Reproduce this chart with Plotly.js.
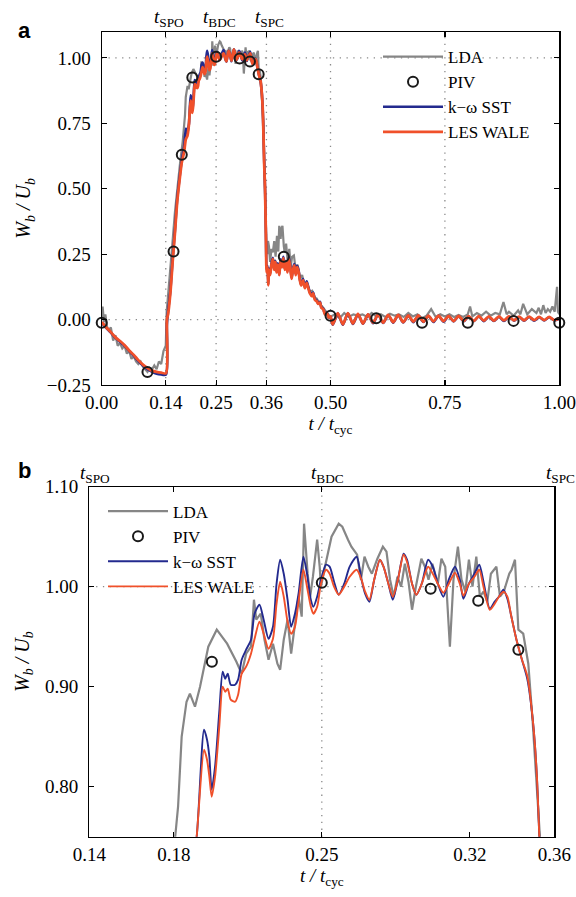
<!DOCTYPE html>
<html>
<head>
<meta charset="utf-8">
<script src="https://cdn.plot.ly/plotly-3.0.1.min.js"></script>
<style>html,body{margin:0;padding:0;background:#fff;}#chart{width:576px;height:897px;}</style>
</head>
<body>
<div id="chart"></div>
<script>
// ---------------- data ----------------
const tSim = [0,0.01,0.02,0.03,0.04,0.05,0.06,0.07,0.08,0.09,0.1,0.11,0.12,0.13,0.1405,
0.1425,0.145,0.15,0.155,0.16,0.165,0.17,0.175,0.18,0.184,0.187,0.189,0.1908,
0.1943,0.1957,0.1968,0.1979,0.1995,0.2015,0.2031,0.2043,0.2055,0.2069,0.209,0.2104,0.2121,0.2142,0.2165,0.2182,0.2205,0.2225,0.2248,0.2269,0.2286,0.2303,0.232,0.2338,0.2355,0.2373,0.239,0.2413,0.243,0.2448,0.246,0.2478,0.2496,0.252,0.2537,0.2558,0.258,0.2606,0.2632,0.2665,0.2688,0.2705,0.2725,0.2748,0.2775,0.2792,0.2815,0.2836,0.286,0.2887,0.2903,0.2927,0.2947,0.2973,0.3003,0.3025,0.3049,0.3075,0.3101,0.313,0.3153,0.317,0.3196,0.3222,0.3245,0.3265,0.3295,0.3318,0.3338,0.3359,0.3378,0.3395,0.3421,0.3447,0.3473,0.35,0.3517,0.3529,
0.355,0.357,0.359,0.3605,0.3625,0.364,0.3655,0.368,0.371,0.374,0.377,0.3795,0.382,0.385,0.388,0.391,0.394,0.397,0.4,0.403,0.406,0.409,0.412,0.415,0.418,0.421,0.424,0.427,0.43,0.433,0.436,0.44,0.444,0.448,0.4515,0.455,0.459,0.462,0.466,0.47,0.473,0.477,0.48,0.484,0.488,0.492,0.496,
0.5,0.505,0.516,0.527,0.538,0.549,0.56,0.571,0.582,0.593,0.604,0.615,0.626,0.637,0.648,0.659,0.67,0.681,0.692,0.703,0.714,0.725,0.736,0.747,0.758,0.769,0.78,0.791,0.802,0.813,0.824,0.835,0.846,0.857,0.868,0.879,0.89,0.901,0.912,0.923,0.934,0.945,0.956,0.967,0.978,0.989,1.0];

const lesWale = [-0.01,-0.03,-0.048,-0.068,-0.082,-0.098,-0.118,-0.135,-0.155,-0.172,-0.185,-0.195,-0.2,-0.203,-0.205,
0.0,0.02,0.1,0.22,0.33,0.45,0.53,0.6,0.64,0.69,0.7,0.72,0.75,
0.837,0.827,0.81,0.79,0.81,0.86,0.9,0.895,0.898,0.887,0.885,0.892,0.913,0.92,0.933,0.948,0.965,0.953,0.938,0.948,0.983,1.005,0.99,0.965,0.953,0.96,0.985,1.017,1.0,0.98,0.973,0.98,1.003,1.017,1.013,1.0,0.992,1.0,1.01,1.017,1.007,0.995,0.987,1.007,1.027,1.02,1.003,0.99,1.007,1.032,1.025,1.003,0.992,1.003,1.02,1.013,1.003,0.994,1.003,1.014,1.003,0.991,1.003,1.01,1.017,1.0,0.977,0.983,0.99,0.995,0.99,0.972,0.947,0.927,0.91,0.863,0.813,0.75,
0.6,0.497,0.3,0.18,0.2,0.131,0.19,0.17,0.21,0.232,0.19,0.22,0.18,0.21,0.17,0.225,0.2,0.235,0.19,0.22,0.18,0.232,0.2,0.156,0.19,0.207,0.17,0.2,0.185,0.15,0.13,0.15,0.12,0.14,0.12,0.1,0.09,0.1,0.075,0.07,0.06,0.065,0.045,0.04,0.02,0.025,0.008,
0.012,-0.018,0.025,-0.018,0.025,-0.015,0.022,-0.015,0.02,-0.012,0.02,-0.012,0.018,-0.01,0.018,-0.01,0.016,-0.008,0.016,-0.008,0.015,-0.007,0.015,-0.006,0.014,-0.006,0.014,-0.005,0.013,-0.005,0.013,-0.004,0.012,-0.004,0.012,-0.003,0.012,-0.003,0.011,-0.003,0.011,-0.002,0.01,-0.002,0.01,-0.002,0.004];

const kwSst = [-0.012,-0.032,-0.05,-0.07,-0.085,-0.1,-0.12,-0.138,-0.158,-0.176,-0.19,-0.2,-0.207,-0.21,-0.21,
-0.02,0.03,0.11,0.23,0.34,0.46,0.54,0.61,0.66,0.73,0.71,0.73,0.75,
0.857,0.847,0.83,0.797,0.82,0.875,0.915,0.908,0.913,0.902,0.902,0.907,0.927,0.937,0.947,0.973,0.982,0.967,0.948,0.96,1.003,1.027,1.013,0.987,0.96,0.973,0.993,1.03,1.013,0.987,0.98,0.99,1.007,1.022,1.02,1.005,0.992,1.003,1.02,1.03,1.007,0.993,0.985,1.007,1.027,1.02,1.003,0.987,1.007,1.033,1.027,1.003,0.992,1.003,1.027,1.02,1.003,0.99,1.007,1.02,1.007,0.988,1.003,1.013,1.022,1.005,0.978,0.985,0.99,0.997,0.988,0.972,0.947,0.927,0.907,0.863,0.813,0.75,
0.61,0.5,0.31,0.19,0.205,0.135,0.195,0.175,0.215,0.236,0.195,0.225,0.185,0.215,0.172,0.23,0.205,0.24,0.195,0.225,0.185,0.238,0.205,0.16,0.195,0.212,0.175,0.205,0.19,0.155,0.133,0.155,0.125,0.146,0.125,0.104,0.095,0.103,0.079,0.073,0.062,0.068,0.047,0.042,0.022,0.026,0.008,
0.01,-0.02,0.024,-0.02,0.024,-0.017,0.02,-0.016,0.019,-0.014,0.019,-0.013,0.017,-0.012,0.017,-0.011,0.015,-0.01,0.015,-0.009,0.014,-0.009,0.014,-0.008,0.013,-0.007,0.013,-0.007,0.012,-0.006,0.012,-0.006,0.011,-0.005,0.011,-0.005,0.011,-0.004,0.01,-0.004,0.01,-0.004,0.009,-0.003,0.009,-0.003,0.003];

const tLda = [0,0.002,0.005,0.008,0.012,0.016,0.02,0.025,0.03,0.035,0.04,0.045,0.05,0.055,0.06,0.065,0.07,0.075,0.08,0.085,0.09,0.095,0.1,0.105,0.11,0.115,0.12,0.125,0.13,0.135,0.14,
0.142,0.145,0.149,0.154,0.16,0.1665,0.172,0.177,0.1806,0.182,0.1837,0.186,0.1876,0.19,0.1924,0.1963,0.2003,0.2052,0.2096,0.2121,0.2142,0.2165,0.2179,0.219,0.2211,0.2229,0.2248,0.2269,0.229,0.2303,0.232,0.2338,0.2355,0.2373,0.239,0.2405,0.2416,0.2433,0.2445,0.2458,0.2478,0.249,0.2496,0.2515,0.2546,0.258,0.2597,0.2624,0.264,0.2667,0.2685,0.2702,0.272,0.2737,0.2763,0.2789,0.2806,0.2823,0.284,0.2858,0.2875,0.2893,0.291,0.2927,0.2945,0.2971,0.2988,0.3005,0.3023,0.3049,0.3066,0.3084,0.3106,0.3123,0.3144,0.3161,0.3179,0.3196,0.3213,0.3231,0.3248,0.3265,0.3283,0.33,0.3326,0.3343,0.3361,0.3387,0.3398,0.3414,0.343,0.3453,0.3477,0.3497,0.3516,0.3532,
0.356,0.358,0.3597,0.362,0.3635,0.3655,0.368,0.371,0.374,0.377,0.38,0.383,0.386,0.388,0.391,0.393,0.395,0.398,0.4,0.403,0.406,0.4075,0.41,0.413,0.416,0.42,0.424,0.428,0.4335,0.438,0.443,0.448,0.455,0.46,0.465,0.47,0.476,0.482,0.49,0.495,0.5,
0.51,0.52,0.53,0.54,0.55,0.56,0.57,0.58,0.59,0.6,0.61,0.62,0.63,0.64,0.65,0.66,0.67,0.68,0.69,0.7,0.71,0.72,0.73,0.74,0.75,0.76,0.77,0.78,0.79,0.8,0.805,0.81,0.82,0.83,0.84,0.85,0.86,0.87,0.878,0.885,0.89,0.9,0.91,0.915,0.921,0.93,0.94,0.95,0.955,0.96,0.965,0.97,0.975,0.98,0.985,0.99,0.995,0.997,1.0];

const lda = [0.0,0.05,-0.01,0.02,-0.03,-0.04,-0.03,-0.08,-0.06,-0.1,-0.09,-0.11,-0.1,-0.13,-0.12,-0.15,-0.14,-0.16,-0.17,-0.16,-0.18,-0.19,-0.2,-0.185,-0.19,-0.175,-0.19,-0.16,-0.17,-0.12,-0.1,
0.03,0.1,0.18,0.28,0.41,0.535,0.61,0.68,0.749,0.78,0.85,0.885,0.893,0.88,0.9,0.94,0.957,0.943,0.925,0.913,0.933,0.94,0.987,0.967,0.973,0.947,0.927,0.943,0.923,0.917,0.947,0.967,0.933,0.96,0.99,0.97,1.063,1.013,0.99,1.01,1.047,1.02,1.0,1.02,1.05,1.063,1.06,1.047,1.04,1.032,1.007,1.03,1.02,1.013,1.028,1.04,1.035,1.007,0.99,1.01,1.0,1.023,1.005,0.977,1.0,1.028,1.02,1.007,1.023,1.003,1.028,1.02,0.94,1.007,1.04,1.007,0.995,1.027,1.0,1.03,0.99,0.995,0.985,1.013,1.02,0.99,0.995,1.013,1.017,1.027,0.957,0.953,0.923,0.867,0.8,0.75,
0.55,0.35,0.295,0.25,0.3,0.28,0.22,0.27,0.257,0.3,0.24,0.32,0.26,0.358,0.308,0.35,0.358,0.28,0.257,0.29,0.23,0.245,0.27,0.2,0.24,0.245,0.19,0.21,0.156,0.17,0.13,0.14,0.106,0.11,0.085,0.08,0.06,0.05,0.03,0.02,0.011,
0.02,0.005,0.025,0.01,0.02,0.015,0.02,0.01,0.025,0.012,0.02,0.01,0.022,0.015,0.02,0.01,0.025,0.012,0.02,0.005,0.015,0.04,0.01,0.02,0.012,0.02,0.01,0.018,0.01,0.02,0.05,0.012,0.025,0.015,0.03,0.015,0.025,0.02,0.067,0.02,0.03,0.015,0.035,0.02,0.06,0.02,0.04,0.025,0.045,0.02,0.055,0.025,0.04,0.03,0.05,0.03,0.125,0.03,0.02];

const tPiv = [0,0.1,0.157,0.175,0.198,0.25,0.3015,0.324,0.343,0.398,0.5,0.6,0.7,0.8,0.9,1.0];
const piv  = [-0.012,-0.2,0.26,0.63,0.925,1.004,0.998,0.986,0.937,0.24,0.015,0.005,-0.012,-0.012,-0.005,-0.012];

const seriesNames = ['LDA','PIV','k\u2212\u03c9 SST','LES WALE'];
const eventT = [0.14, 0.25, 0.36];
const eventNames = ['SPO','BDC','SPC'];
const xTicksTop = [0, 0.14, 0.25, 0.36, 0.5, 0.75, 1.0];
const yTicksTop = [-0.25, 0, 0.25, 0.5, 0.75, 1.0];
const xTicksBot = [0.14, 0.18, 0.25, 0.32, 0.36];
const yTicksBot = [0.8, 0.9, 1.0, 1.1];
const xGridTop = [0.14, 0.25, 0.36, 0.5, 0.75];
const yGridTop = [0, 1];
const xGridBot = [0.25];
const yGridBot = [1.0];

// ---------------- styling ----------------
const C_LDA = '#868686', C_SST = '#232a8e', C_LES = '#f0502a', C_PIV = '#1a1a1a';
const SERIF = 'Liberation Serif';

function traces(xa, ya, leg, wide) {
  return [
    {x: tLda, y: lda, type: 'scatter', mode: 'lines', name: seriesNames[0], xaxis: xa, yaxis: ya, legend: leg,
     line: {color: C_LDA, width: 2.2}, legendrank: 1},
    {x: tSim, y: kwSst, type: 'scatter', mode: 'lines', name: seriesNames[2], xaxis: xa, yaxis: ya, legend: leg,
     line: {color: C_SST, width: wide ? 2.6 : 1.9, shape: 'spline', smoothing: 0.7}, legendrank: 3},
    {x: tSim, y: lesWale, type: 'scatter', mode: 'lines', name: seriesNames[3], xaxis: xa, yaxis: ya, legend: leg,
     line: {color: C_LES, width: wide ? 2.8 : 1.9, shape: 'spline', smoothing: 0.7}, legendrank: 4},
    {x: tPiv, y: piv, type: 'scatter', mode: 'markers', name: seriesNames[1], xaxis: xa, yaxis: ya, legend: leg,
     marker: {symbol: 'circle-open', size: 10, color: C_PIV, line: {width: 2, color: C_PIV}}, legendrank: 2, cliponaxis: false}
  ];
}

const data = traces('x', 'y', 'legend', true).concat(traces('x2', 'y2', 'legend2', false));

const W = 576, H = 897, ML = 80, MR = 16, MT = 20, MB = 40;
const PW = W - ML - MR, PH = H - MT - MB;
const fx = px => (px - ML) / PW;
const fy = py => (H - MB - py) / PH;

function axis(extra, standoff) {
  return Object.assign({
    showline: true, linecolor: '#000', linewidth: 1.2, mirror: 'ticks',
    ticks: 'inside', ticklen: 5, tickwidth: 1.2, tickcolor: '#000',
    showgrid: false, zeroline: false, tickmode: 'array', tickformat: '.2f',
    tickfont: {family: SERIF, size: 19, color: '#000'}, ticklabelstandoff: standoff
  }, extra);
}

const shapes = [];
function gridShapes(xs, ys, xr, yr) {
  xs.forEach(v => shapes.push({type: 'line', xref: xr, yref: yr + ' domain', x0: v, x1: v, y0: 0, y1: 1,
    line: {color: '#8a8a8a', width: 1.3, dash: '1.3px,5.5px'}, layer: 'below'}));
  ys.forEach(v => shapes.push({type: 'line', xref: xr + ' domain', yref: yr, x0: 0, x1: 1, y0: v, y1: v,
    line: {color: '#8a8a8a', width: 1.3, dash: '1.3px,5.5px'}, layer: 'below'}));
}
gridShapes(xGridTop, yGridTop, 'x', 'y');
gridShapes(xGridBot, yGridBot, 'x2', 'y2');

const annotations = [];
eventT.forEach((t, i) => {
  annotations.push({xref: 'x', yref: 'paper', x: t, y: fy(18), xshift: 3, yanchor: 'middle', xanchor: 'center', showarrow: false,
    text: '<i>t</i><sub>' + eventNames[i] + '</sub>', font: {family: SERIF, size: 19, color: '#000'}});
  annotations.push({xref: 'x2', yref: 'paper', x: t, y: fy(474), xshift: 6, yanchor: 'middle', xanchor: 'center', showarrow: false,
    text: '<i>t</i><sub>' + eventNames[i] + '</sub>', font: {family: SERIF, size: 19, color: '#000'}});
});
annotations.push({xref: 'paper', yref: 'paper', x: fx(24), y: fy(31), xanchor: 'center', yanchor: 'middle', showarrow: false,
  text: '<b>a</b>', font: {family: 'Liberation Sans', size: 22, color: '#000'}});
annotations.push({xref: 'paper', yref: 'paper', x: fx(24), y: fy(470), xanchor: 'center', yanchor: 'middle', showarrow: false,
  text: '<b>b</b>', font: {family: 'Liberation Sans', size: 22, color: '#000'}});

const yTitle = '<i>W</i><sub><i>b</i></sub><i> / U</i><sub><i>b</i></sub>';
const xTitle = '<i>t / t</i><sub>cyc</sub>';

const legendBase = {bgcolor: 'rgba(0,0,0,0)', borderwidth: 0, font: {family: SERIF, size: 17, color: '#000'},
  itemwidth: 60, xanchor: 'left', yanchor: 'top', traceorder: 'normal', itemclick: false};

const layout = {
  width: W, height: H, paper_bgcolor: '#fff', plot_bgcolor: 'rgba(0,0,0,0)',
  margin: {l: ML, r: MR, t: MT, b: MB}, showlegend: true,
  font: {family: SERIF, size: 19, color: '#000'},
  xaxis: axis({domain: [fx(101.7), fx(559.3)], range: [0, 1], tickvals: xTicksTop, anchor: 'y',
    title: {text: xTitle, font: {family: SERIF, size: 19}, standoff: 1}}, 0),
  yaxis: axis({domain: [fy(385), fy(31.7)], range: [-0.25, 1.1], tickvals: yTicksTop, anchor: 'x',
    title: {text: yTitle, font: {family: SERIF, size: 20}, standoff: 10}}, 6),
  xaxis2: axis({domain: [fx(89.3), fx(554.3)], range: [0.14, 0.36], tickvals: xTicksBot, anchor: 'y2',
    title: {text: xTitle, font: {family: SERIF, size: 19}, standoff: 1}}, 0),
  yaxis2: axis({domain: [fy(836.7), fy(486.7)], range: [0.75, 1.1], tickvals: yTicksBot, anchor: 'x2',
    title: {text: yTitle, font: {family: SERIF, size: 20}, standoff: 10}}, 6),
  legend: Object.assign({}, legendBase, {x: fx(378), y: fy(39)}),
  legend2: Object.assign({}, legendBase, {x: fx(103), y: fy(493.5)}),
  shapes: shapes, annotations: annotations
};

Plotly.newPlot('chart', data, layout, {staticPlot: true, displayModeBar: false});
</script>
</body>
</html>
